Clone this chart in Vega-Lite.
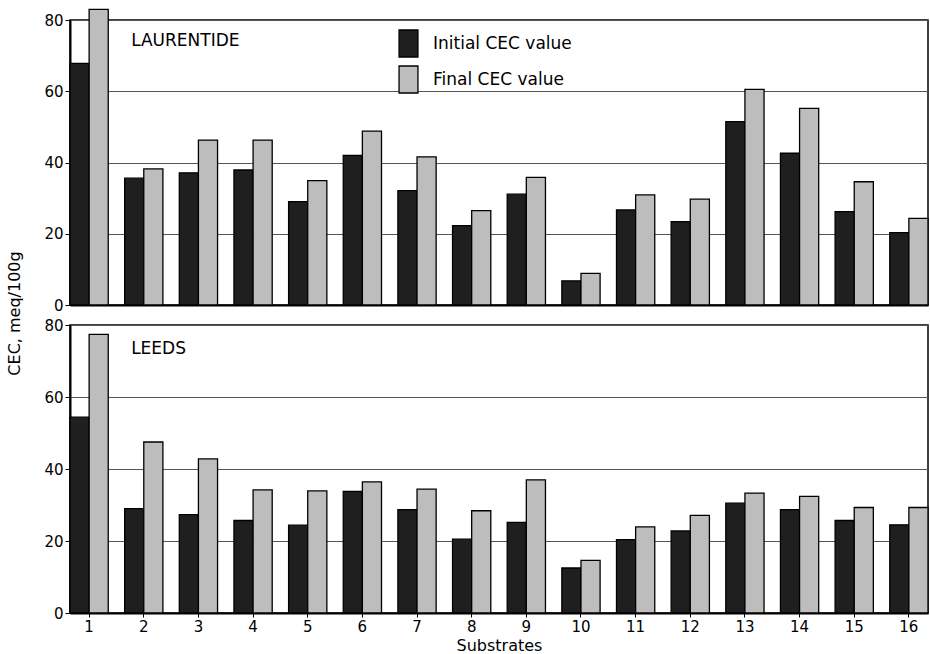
{
  "$schema": "https://vega.github.io/schema/vega-lite/v6.json",
  "background": "white",
  "padding": {"left": 5, "top": 7, "right": 2, "bottom": 2},
  "bounds": "flush",
  "spacing": 20,
  "config": {
    "font": "DejaVu Sans",
    "view": {"stroke": "black", "strokeWidth": 1.5},
    "axis": {
      "labelFont": "DejaVu Sans", "labelFontSize": 15, "labelColor": "black",
      "titleFont": "DejaVu Sans", "titleFontWeight": "normal", "titleColor": "black",
      "domainColor": "black", "domainWidth": 2, "tickColor": "black"
    }
  },
  "datasets": {
    "cec": [
      {"site": "Laurentide", "substrate": 1, "type": "Initial CEC value", "cec": 67.8},
      {"site": "Laurentide", "substrate": 1, "type": "Final CEC value", "cec": 83},
      {"site": "Laurentide", "substrate": 2, "type": "Initial CEC value", "cec": 35.6},
      {"site": "Laurentide", "substrate": 2, "type": "Final CEC value", "cec": 38.2},
      {"site": "Laurentide", "substrate": 3, "type": "Initial CEC value", "cec": 37.1},
      {"site": "Laurentide", "substrate": 3, "type": "Final CEC value", "cec": 46.3},
      {"site": "Laurentide", "substrate": 4, "type": "Initial CEC value", "cec": 37.9},
      {"site": "Laurentide", "substrate": 4, "type": "Final CEC value", "cec": 46.3},
      {"site": "Laurentide", "substrate": 5, "type": "Initial CEC value", "cec": 29.0},
      {"site": "Laurentide", "substrate": 5, "type": "Final CEC value", "cec": 34.9},
      {"site": "Laurentide", "substrate": 6, "type": "Initial CEC value", "cec": 42.0},
      {"site": "Laurentide", "substrate": 6, "type": "Final CEC value", "cec": 48.8},
      {"site": "Laurentide", "substrate": 7, "type": "Initial CEC value", "cec": 32.1},
      {"site": "Laurentide", "substrate": 7, "type": "Final CEC value", "cec": 41.6},
      {"site": "Laurentide", "substrate": 8, "type": "Initial CEC value", "cec": 22.3},
      {"site": "Laurentide", "substrate": 8, "type": "Final CEC value", "cec": 26.5},
      {"site": "Laurentide", "substrate": 9, "type": "Initial CEC value", "cec": 31.1},
      {"site": "Laurentide", "substrate": 9, "type": "Final CEC value", "cec": 35.8},
      {"site": "Laurentide", "substrate": 10, "type": "Initial CEC value", "cec": 6.8},
      {"site": "Laurentide", "substrate": 10, "type": "Final CEC value", "cec": 8.9},
      {"site": "Laurentide", "substrate": 11, "type": "Initial CEC value", "cec": 26.7},
      {"site": "Laurentide", "substrate": 11, "type": "Final CEC value", "cec": 30.9},
      {"site": "Laurentide", "substrate": 12, "type": "Initial CEC value", "cec": 23.4},
      {"site": "Laurentide", "substrate": 12, "type": "Final CEC value", "cec": 29.7},
      {"site": "Laurentide", "substrate": 13, "type": "Initial CEC value", "cec": 51.5},
      {"site": "Laurentide", "substrate": 13, "type": "Final CEC value", "cec": 60.5},
      {"site": "Laurentide", "substrate": 14, "type": "Initial CEC value", "cec": 42.6},
      {"site": "Laurentide", "substrate": 14, "type": "Final CEC value", "cec": 55.2},
      {"site": "Laurentide", "substrate": 15, "type": "Initial CEC value", "cec": 26.2},
      {"site": "Laurentide", "substrate": 15, "type": "Final CEC value", "cec": 34.6},
      {"site": "Laurentide", "substrate": 16, "type": "Initial CEC value", "cec": 20.3},
      {"site": "Laurentide", "substrate": 16, "type": "Final CEC value", "cec": 24.3},
      {"site": "Leeds", "substrate": 1, "type": "Initial CEC value", "cec": 54.4},
      {"site": "Leeds", "substrate": 1, "type": "Final CEC value", "cec": 77.4},
      {"site": "Leeds", "substrate": 2, "type": "Initial CEC value", "cec": 29.0},
      {"site": "Leeds", "substrate": 2, "type": "Final CEC value", "cec": 47.5},
      {"site": "Leeds", "substrate": 3, "type": "Initial CEC value", "cec": 27.3},
      {"site": "Leeds", "substrate": 3, "type": "Final CEC value", "cec": 42.8},
      {"site": "Leeds", "substrate": 4, "type": "Initial CEC value", "cec": 25.7},
      {"site": "Leeds", "substrate": 4, "type": "Final CEC value", "cec": 34.2},
      {"site": "Leeds", "substrate": 5, "type": "Initial CEC value", "cec": 24.4},
      {"site": "Leeds", "substrate": 5, "type": "Final CEC value", "cec": 33.9},
      {"site": "Leeds", "substrate": 6, "type": "Initial CEC value", "cec": 33.8},
      {"site": "Leeds", "substrate": 6, "type": "Final CEC value", "cec": 36.4},
      {"site": "Leeds", "substrate": 7, "type": "Initial CEC value", "cec": 28.7},
      {"site": "Leeds", "substrate": 7, "type": "Final CEC value", "cec": 34.4},
      {"site": "Leeds", "substrate": 8, "type": "Initial CEC value", "cec": 20.5},
      {"site": "Leeds", "substrate": 8, "type": "Final CEC value", "cec": 28.4},
      {"site": "Leeds", "substrate": 9, "type": "Initial CEC value", "cec": 25.2},
      {"site": "Leeds", "substrate": 9, "type": "Final CEC value", "cec": 37.0},
      {"site": "Leeds", "substrate": 10, "type": "Initial CEC value", "cec": 12.5},
      {"site": "Leeds", "substrate": 10, "type": "Final CEC value", "cec": 14.6},
      {"site": "Leeds", "substrate": 11, "type": "Initial CEC value", "cec": 20.4},
      {"site": "Leeds", "substrate": 11, "type": "Final CEC value", "cec": 23.9},
      {"site": "Leeds", "substrate": 12, "type": "Initial CEC value", "cec": 22.8},
      {"site": "Leeds", "substrate": 12, "type": "Final CEC value", "cec": 27.1},
      {"site": "Leeds", "substrate": 13, "type": "Initial CEC value", "cec": 30.5},
      {"site": "Leeds", "substrate": 13, "type": "Final CEC value", "cec": 33.3},
      {"site": "Leeds", "substrate": 14, "type": "Initial CEC value", "cec": 28.7},
      {"site": "Leeds", "substrate": 14, "type": "Final CEC value", "cec": 32.4},
      {"site": "Leeds", "substrate": 15, "type": "Initial CEC value", "cec": 25.7},
      {"site": "Leeds", "substrate": 15, "type": "Final CEC value", "cec": 29.3},
      {"site": "Leeds", "substrate": 16, "type": "Initial CEC value", "cec": 24.5},
      {"site": "Leeds", "substrate": 16, "type": "Final CEC value", "cec": 29.3}
    ]
  },
  "resolve": {"legend": {"color": "independent"}},
  "vconcat": [
    {
      "width": 858,
      "height": 285,
      "layer": [
        {
          "data": {"name": "cec"},
          "transform": [{"filter": "datum.site === 'Laurentide'"}],
          "mark": {"type": "bar", "stroke": "black", "strokeWidth": 1.3},
          "encoding": {
            "x": {"field": "substrate", "type": "ordinal", "scale": {"paddingInner": 0.3, "paddingOuter": 0},
                  "axis": {"labels": false, "ticks": false, "title": null}},
            "xOffset": {"field": "type", "type": "nominal", "scale": {"domain": ["Initial CEC value", "Final CEC value"]}},
            "y": {"field": "cec", "type": "quantitative", "scale": {"domain": [0, 80], "nice": false},
                  "axis": {"values": [0, 20, 40, 60, 80], "gridColor": "#555", "gridWidth": 1.2, "tickSize": 5, "labelPadding": 2,
                           "title": "CEC, meq/100g", "titleFontSize": 16, "titleAngle": -90, "titleX": -56, "titleY": 293,
                           "titleAlign": "center", "titleBaseline": "middle"}},
            "color": {"field": "type", "type": "nominal",
                      "scale": {"domain": ["Initial CEC value", "Final CEC value"], "range": ["#1f1f1f", "#bdbdbd"]},
                      "legend": {"title": null, "orient": "none", "legendX": 324, "legendY": 9,
                                 "symbolType": "M-0.7,-1H0.7V1H-0.7Z",
                                 "symbolSize": 729, "symbolStrokeColor": "black", "symbolStrokeWidth": 1.3,
                                 "labelFontSize": 17, "labelFont": "DejaVu Sans", "labelColor": "black",
                                 "rowPadding": 3, "labelOffset": 10}}
          }
        },
        {
          "data": {"values": [{"label": "LAURENTIDE"}]},
          "mark": {"type": "text", "align": "left", "baseline": "middle", "dx": 42, "fontSize": 17, "font": "DejaVu Sans", "color": "black"},
          "encoding": {
            "x": {"datum": 1, "type": "ordinal"},
            "y": {"datum": 74, "type": "quantitative"},
            "text": {"field": "label"}
          }
        }
      ]
    },
    {
      "width": 858,
      "height": 288,
      "layer": [
        {
          "data": {"name": "cec"},
          "transform": [{"filter": "datum.site === 'Leeds'"}],
          "mark": {"type": "bar", "stroke": "black", "strokeWidth": 1.3},
          "encoding": {
            "x": {"field": "substrate", "type": "ordinal", "scale": {"paddingInner": 0.3, "paddingOuter": 0},
                  "axis": {"labelAngle": 0, "tickSize": 4, "labelPadding": 2, "title": "Substrates", "titleFontSize": 16, "titlePadding": 3}},
            "xOffset": {"field": "type", "type": "nominal", "scale": {"domain": ["Initial CEC value", "Final CEC value"]}},
            "y": {"field": "cec", "type": "quantitative", "scale": {"domain": [0, 80], "nice": false},
                  "axis": {"values": [0, 20, 40, 60, 80], "gridColor": "#555", "gridWidth": 1.2, "tickSize": 5, "labelPadding": 2, "title": null}},
            "color": {"field": "type", "type": "nominal",
                      "scale": {"domain": ["Initial CEC value", "Final CEC value"], "range": ["#1f1f1f", "#bdbdbd"]},
                      "legend": null}
          }
        },
        {
          "data": {"values": [{"label": "LEEDS"}]},
          "mark": {"type": "text", "align": "left", "baseline": "middle", "dx": 42, "fontSize": 17, "font": "DejaVu Sans", "color": "black"},
          "encoding": {
            "x": {"datum": 1, "type": "ordinal"},
            "y": {"datum": 73.3, "type": "quantitative"},
            "text": {"field": "label"}
          }
        }
      ]
    }
  ]
}
